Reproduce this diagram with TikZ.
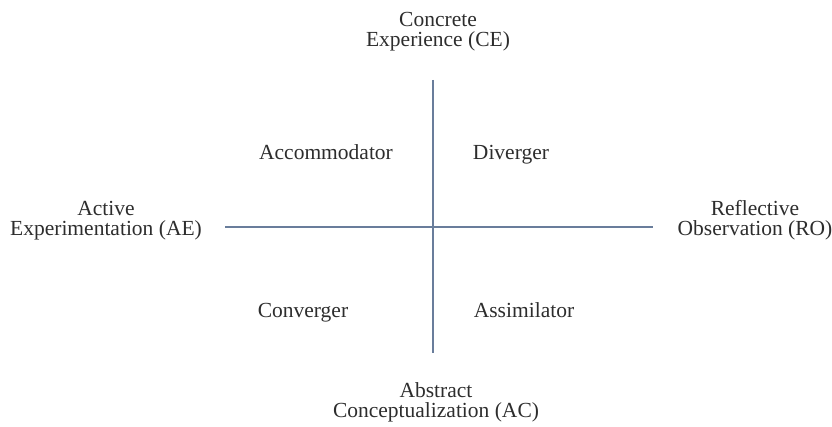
\documentclass[tikz,border=0pt]{standalone}
\usepackage{fontspec}
\setmainfont{Liberation Serif}
\definecolor{axisblue}{RGB}{105,125,155}
\definecolor{textgray}{RGB}{45,45,45}
\begin{document}
\begin{tikzpicture}[x=1pt,y=-1pt]
        \tikzset{
          lbl/.style={font=\fontsize{21.5}{20}\selectfont,text=textgray,inner sep=0pt,anchor=base,align=center},
          axis/.style={axisblue,line width=1.2pt}
        }
        \useasboundingbox (0,0) rectangle (832,427);
        %AXIS Y
        \coordinate (top) at (433,80);
        \coordinate (bot) at (433,353);
        \draw[axis] (top) -- (bot);
        %AXIS X
        \coordinate (left) at (225,227);
        \coordinate (right) at (653,227);
        \draw[axis] (left) -- (right);
        %poles
        \node[lbl] (CE) at (438,47) {Concrete\\Experience (CE)};
        \node[lbl] (AC) at (436,417) {Abstract\\Conceptualization (AC)};
        \node[lbl] (AE) at (106,236) {Active\\Experimentation (AE)};
        \node[lbl] (RO) at (755,236) {Reflective\\Observation (RO)};
        %styles
        \node[lbl] (acc) at (326,160) {Accommodator};
        \node[lbl] (div) at (511,160) {Diverger};
        \node[lbl] (con) at (303,318) {Converger};
        \node[lbl] (ass) at (524,318) {Assimilator};
\end{tikzpicture}
\end{document}
